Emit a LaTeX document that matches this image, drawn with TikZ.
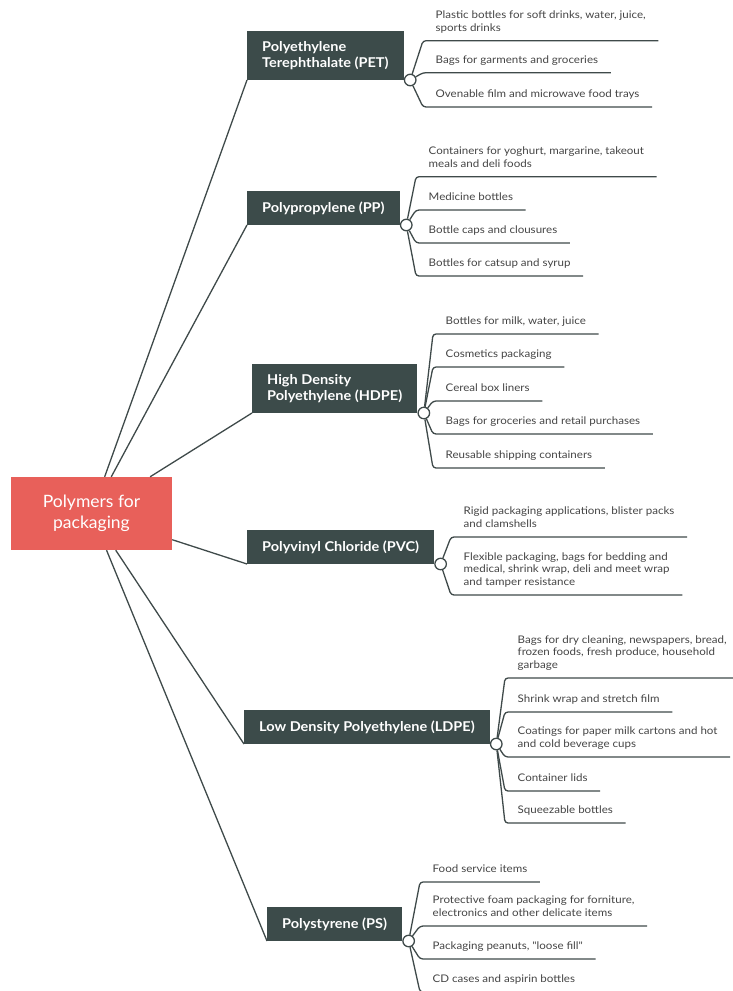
\documentclass[tikz,border=0pt]{standalone}
\usepackage{fontspec}
\setmainfont{Lato}
\newfontfamily\pmleaffont{Lato}[FakeStretch=1.1]
\newfontfamily\pmboxfont{Lato}[FakeStretch=1.075]
\newfontfamily\pmrootfont{Lato}[FakeStretch=1.03]
\usepackage{xcolor}
\usepackage{tikz}
\usetikzlibrary{positioning}
\definecolor{PMRed}{HTML}{E8605A}
\definecolor{PMSlate}{HTML}{3C4B4A}
\definecolor{PMLine}{HTML}{3F4A4A}
\definecolor{PMText}{HTML}{444444}
\tikzset{
  pmroot/.style={
    rectangle,
    fill=PMRed,
    text=white,
    align=center,
    font=\pmrootfont\fontsize{17}{20.5}\selectfont,
    minimum width=161pt,
    minimum height=73pt
  },
  pmbranch/.style={
    rectangle,
    fill=PMSlate,
    text=white,
    anchor=south west,
    align=left,
    font=\pmboxfont\fontsize{13.5}{16}\selectfont\bfseries,
    inner xsep=15pt,
    inner ysep=10.5pt
  },
  pmleaf/.style={
    anchor=south west,
    align=left,
    text=PMText,
    font=\pmleaffont\fontsize{10.5}{12.6}\selectfont,
    inner xsep=12.5pt,
    inner ysep=7pt,
    text depth=2.5pt
  },
  pmdot/.style={circle,draw=PMLine,fill=white,line width=1.3pt,minimum size=11.5pt,inner sep=0pt},
  pmline/.style={draw=PMLine,line width=1.3pt},
  pmleg/.style={pmline,rounded corners=3pt},
}

\begin{document}
\begin{tikzpicture}[x=1pt,y=-1pt]
  \useasboundingbox (0,0) rectangle (732,991);

  \node[pmroot] (root) at (91.5,513.5) {Polymers for\\packaging};

  % the six polymers
  \node[pmbranch] (pet) at (247,80) {Polyethylene\\Terephthalate (PET)};
  \node[pmbranch] (pp) at (247,225) {Polypropylene (PP)};
  \node[pmbranch] (hdpe) at (252,413) {High Density\\Polyethylene (HDPE)};
  \node[pmbranch] (pvc) at (247,564) {Polyvinyl Chloride (PVC)};
  \node[pmbranch] (ldpe) at (244,744) {Low Density Polyethylene (LDPE)};
  \node[pmbranch] (ps) at (267,941) {Polystyrene (PS)};

  \foreach \b in {pet,pp,hdpe,pvc,ldpe,ps}
    \draw[pmline] (root) -- (\b.south west);

  % uses
  \node[pmleaf] (pet1) at (423,40.7) {Plastic bottles for soft drinks, water, juice,\\sports drinks};
  \node[pmleaf] (pet2) at (423,72.7) {Bags for garments and groceries};
  \node[pmleaf] (pet3) at (423,107) {Ovenable film and microwave food trays};

  \node[pmleaf] (pp1) at (416,176.7) {Containers for yoghurt, margarine, takeout\\meals and deli foods};
  \node[pmleaf] (pp2) at (416,210) {Medicine bottles};
  \node[pmleaf] (pp3) at (416,243) {Bottle caps and clousures};
  \node[pmleaf] (pp4) at (416,276) {Bottles for catsup and syrup};

  \node[pmleaf] (hdpe1) at (433,334) {Bottles for milk, water, juice};
  \node[pmleaf] (hdpe2) at (433,367) {Cosmetics packaging};
  \node[pmleaf] (hdpe3) at (433,401) {Cereal box liners};
  \node[pmleaf] (hdpe4) at (433,434) {Bags for groceries and retail purchases};
  \node[pmleaf] (hdpe5) at (433,468) {Reusable shipping containers};

  \node[pmleaf] (pvc1) at (451,537) {Rigid packaging applications, blister packs\\and clamshells};
  \node[pmleaf] (pvc2) at (451,595) {Flexible packaging, bags for bedding and\\medical, shrink wrap, deli and meet wrap\\and tamper resistance};

  \node[pmleaf] (ldpe1) at (505,678) {Bags for dry cleaning, newspapers, bread,\\frozen foods, fresh produce, household\\garbage};
  \node[pmleaf] (ldpe2) at (505,712) {Shrink wrap and stretch film};
  \node[pmleaf] (ldpe3) at (505,757) {Coatings for paper milk cartons and hot\\and cold beverage cups};
  \node[pmleaf] (ldpe4) at (505,791) {Container lids};
  \node[pmleaf] (ldpe5) at (505,823) {Squeezable bottles};

  \node[pmleaf] (ps1) at (420,882) {Food service items};
  \node[pmleaf] (ps2) at (420,926) {Protective foam packaging for forniture,\\electronics and other delicate items};
  \node[pmleaf] (ps3) at (420,959) {Packaging peanuts, "loose fill"};
  \node[pmleaf] (ps4) at (420,992) {CD cases and aspirin bottles};

  % legs from the dots to the underlines
  \foreach \b/\n in {pet/3,pp/4,hdpe/5,pvc/2,ldpe/5,ps/4}{
    \node[pmdot,right=0pt of \b.south east] (\b dot) {};
    \foreach \i in {1,...,\n}
      \draw[pmleg] (\b dot) -- (\b\i.south west) -- (\b\i.south east);
  }
\end{tikzpicture}
\end{document}
